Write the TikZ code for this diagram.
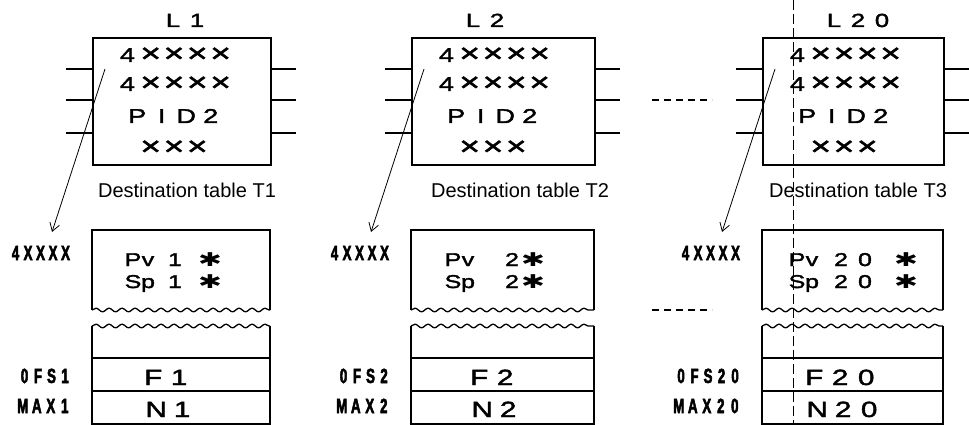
\documentclass[tikz,border=0pt]{standalone}
\usepackage{fontspec}
\setmainfont{Liberation Sans}
\newfontfamily\symfont{DejaVu Sans}
\newfontfamily\widefont[FakeStretch=1.35,FakeBold=2]{Liberation Sans}
\newfontfamily\labfont[FakeStretch=0.65,FakeBold=2.5]{Liberation Sans}
\usetikzlibrary{decorations.pathmorphing,arrows.meta}
\def\sptok#1{\ifx#1\relax\else\makebox[\mypitch]{#1}\expandafter\sptok\fi}
\newcommand\spaced[2]{{\def\mypitch{#1}\edef\tmpa{#2}\expandafter\sptok\tmpa\relax}}
\protected\def\bigx{\scalebox{1.3}{×}}
\begin{document}
\begin{tikzpicture}[x=1pt,y=-1pt,
  bx/.style={line width=1.7pt},
  pin/.style={line width=1.7pt},
  wave/.style={line width=1.3pt, decorate, decoration={snake, segment length=13pt, amplitude=1.8pt}},
  ttl/.style={font=\widefont\fontsize{19}{20}\selectfont, inner sep=0pt, anchor=base},
  btxt/.style={font=\widefont\fontsize{20}{21}\selectfont, inner sep=0pt, anchor=base},
  ftxt/.style={font=\widefont\fontsize{22}{23}\selectfont, inner sep=0pt, anchor=base west},
  dst/.style={font=\fontsize{20}{21}\selectfont, inner sep=0pt, anchor=base},
  pvt/.style={font=\widefont\fontsize{18.5}{20}\selectfont, inner sep=0pt, anchor=base},
  ast/.style={font=\symfont\fontsize{19}{20}\selectfont, inner sep=0pt, anchor=base},
  lab/.style={font=\labfont\bfseries\fontsize{20.5}{21}\selectfont, inner sep=0pt, anchor=base east},
  ptr/.style={line width=0.8pt, -{Straight Barb[length=8pt,width=10pt]}},
  gap/.style={line width=1.2pt, dash pattern=on 7pt off 5pt},
  fold/.style={line width=0.5pt, dash pattern=on 10pt off 4pt}
]
\useasboundingbox (0,0) rectangle (969,425);
\foreach \x/\w/\n/\tn/\tc/\dc/\pp/\dg/\as/\fo [count=\i] in {
  92/178/1/1/185/187/41/83/118/61,
  411/183/2/2/485/520/42/101/122/68,
  762/181/20/3/858/858/35/91/144/52}{
  % upper block
  \node[bx, draw, minimum width=\w pt, minimum height=127pt, inner sep=0pt, anchor=north west] (box\i) at (\x,37) {};
  \foreach \yy in {69,100,133}{
    \draw[pin] (\x,\yy) -- (\x-26,\yy);
    \draw[pin] (\x+\w,\yy) -- (\x+\w+26,\yy);
  }
  \node[ttl] (L\i) at (\tc,27) {\spaced{24pt}{L\n}};
  \node[btxt] (ra\i) at (\x+82,62) {\spaced{23.3pt}{4\bigx\bigx\bigx\bigx}};
  \node[btxt] (rb\i) at (\x+82,91) {\spaced{23.3pt}{4\bigx\bigx\bigx\bigx}};
  \node[btxt] (rc\i) at (\x+82,123) {\spaced{24.5pt}{PID2}};
  \node[btxt] (rd\i) at (\x+82,155) {\spaced{23.3pt}{\bigx\bigx\bigx}};
  \node[dst] (d\i) at (\dc,197) {Destination table T\tn};
  % arrow
  \coordinate (s\i) at (\x+13,69);
  \coordinate (e\i) at (\x-40,232);
  \draw[ptr] (s\i) -- (e\i);
  % lower table
  \draw[bx] (\x,310) -- (\x,230) -- (\x+\w,230) -- (\x+\w,310);
  \draw[wave] (\x,310) -- (\x+\w,310);
  \draw[wave] (\x,326) -- (\x+\w,326);
  \draw[bx] (\x,326) -- (\x,424) -- (\x+\w,424) -- (\x+\w,326);
  \draw[bx] (\x,358) -- (\x+\w,358);
  \draw[bx] (\x,391) -- (\x+\w,391);
  \node[pvt] (pv\i) at (\x+\pp+7.5,266) {\spaced{15pt}{Pv}};
  \node[pvt] (pvn\i) at (\x+\dg,266) {\spaced{24pt}{\n}};
  \node[ast] (pva\i) at (\x+\as,266) {\scalebox{1.5}[1]{✱}};
  \node[pvt] (sp\i) at (\x+\pp+7.5,288) {\spaced{15pt}{Sp}};
  \node[pvt] (spn\i) at (\x+\dg,288) {\spaced{24pt}{\n}};
  \node[ast] (spa\i) at (\x+\as,288) {\scalebox{1.5}[1]{✱}};
  \node[ftxt] (f\i) at (\x+\fo-13,385) {\spaced{26pt}{F\n}};
  \node[ftxt] (nn\i) at (\x+\fo-10,417) {\spaced{26pt}{N\n}};
  % labels
  \node[lab] (la\i) at (\x-20,260) {\spaced{12.5pt}{4XXXX}};
  \node[lab] (lb\i) at (\x-20,383) {\spaced{13.5pt}{0FS\n}};
  \node[lab] (lc\i) at (\x-20,413) {\spaced{14pt}{MAX\n}};
}
\draw[gap] (652,100) -- (712,100);
\draw[gap] (652,310) -- (712,310);
\draw[fold] (793,0) -- (793,425);
\end{tikzpicture}
\end{document}
